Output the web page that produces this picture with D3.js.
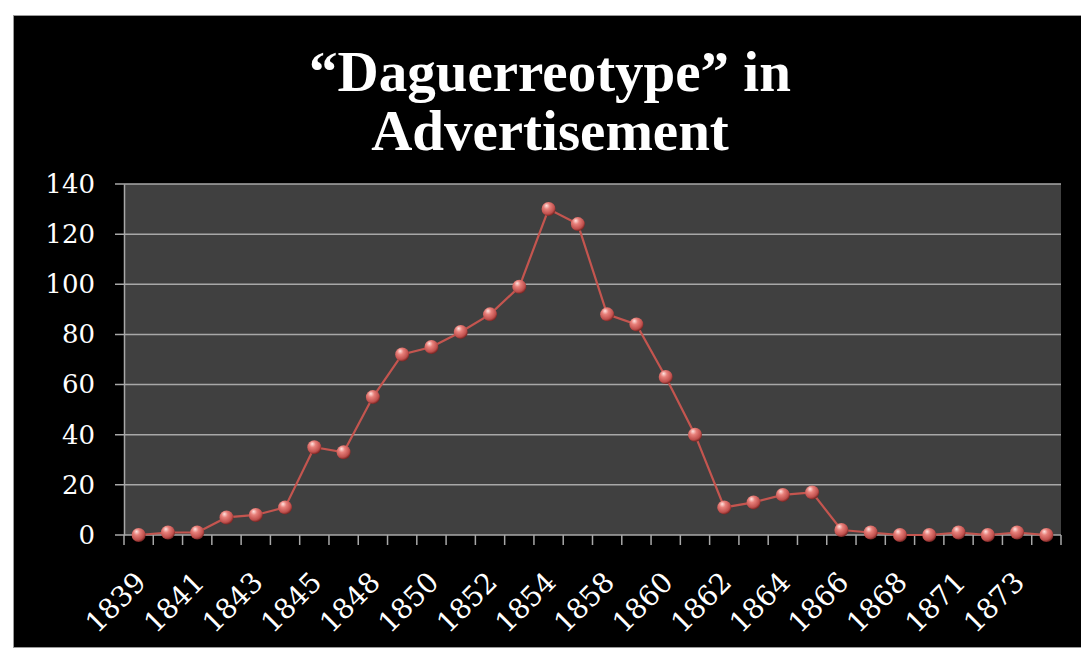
<!DOCTYPE html>
<html lang="en">
  <head>
    <meta charset="utf-8">
    <title>Daguerreotype in Advertisement</title>
    <script src="https://d3js.org/d3.v7.js"></script>
    <style>
      body { margin: 0; background: #fff; }
    </style>
  </head>
  <body>
  <script>

  // categories (every other one is labelled on the axis)
  var years = ["1839","1840","1841","1842","1843","1844","1845","1847",
               "1848","1849","1850","1851","1852","1853","1854","1856",
               "1858","1859","1860","1861","1862","1863","1864","1865",
               "1866","1867","1868","1870","1871","1872","1873","1874"];

  var counts = [0, 1, 1, 7, 8, 11, 35, 33,
                55, 72, 75, 81, 88, 99, 130, 124,
                88, 84, 63, 40, 11, 13, 16, 17,
                2, 1, 0, 0, 1, 0, 1, 0];

  var yTicks = [0, 20, 40, 60, 80, 100, 120, 140];

  var titleLines = ["\u201cDaguerreotype\u201d in", "Advertisement"];

  var data = years.map(function (y, i) { return {year: y, count: counts[i]}; });

  var w = 1081;
  var h = 658;
  var margin = {top: 184, right: 20, bottom: 123, left: 124};

  var svg = d3.select("body")
    .append("svg")
      .attr("width", w)
      .attr("height", h);

  // black chart frame
  svg.append("rect")
      .attr("x", 13.5)
      .attr("y", 15.5)
      .attr("width", w)
      .attr("height", 632)
      .attr("fill", "#000")
      .attr("stroke", "#9a9a9a")
      .attr("stroke-width", 1);

  var xScale = d3.scaleBand()
      .domain(years)
      .range([margin.left, w - margin.right])
      .padding(0);

  var yScale = d3.scaleLinear()
      .domain([0, 140])
      .range([h - margin.bottom, margin.top]);

  var cx = d => xScale(d.year) + xScale.bandwidth() / 2;

  // plot area
  svg.append("rect")
      .attr("x", margin.left)
      .attr("y", margin.top)
      .attr("width", w - margin.left - margin.right)
      .attr("height", h - margin.top - margin.bottom)
      .attr("fill", "#404040");

  // gridlines
  svg.append("g")
    .selectAll("line")
      .data(yTicks)
    .enter().append("line")
      .attr("x1", margin.left - 9)
      .attr("x2", w - margin.right)
      .attr("y1", d => yScale(d))
      .attr("y2", d => yScale(d))
      .attr("stroke", "#a8a8a8")
      .attr("stroke-width", 1.5);

  // y axis
  var yAxis = d3.axisLeft(yScale)
      .tickValues(yTicks)
      .tickSize(0)
      .tickPadding(29);

  var yg = svg.append("g")
      .attr("transform", `translate (${margin.left}, 0)`)
      .call(yAxis);
  yg.select(".domain").attr("stroke", "#a8a8a8").attr("stroke-width", 1.5);
  yg.selectAll("text")
      .attr("fill", "#fff")
      .style("font-family", "'DejaVu Serif', serif")
      .style("font-size", "26px");

  // x axis: ticks on category boundaries, labels on every other category
  var bounds = years.map(d => xScale(d)).concat([w - margin.right]);
  svg.append("g")
    .selectAll("line")
      .data(bounds)
    .enter().append("line")
      .attr("x1", d => d)
      .attr("x2", d => d)
      .attr("y1", yScale(0))
      .attr("y2", yScale(0) + 10)
      .attr("stroke", "#a8a8a8")
      .attr("stroke-width", 1.5);

  svg.append("g")
    .selectAll("text")
      .data(data.filter((d, i) => i % 2 == 0))
    .enter().append("text")
      .attr("transform", d => `translate(${cx(d) + 2}, ${yScale(0) + 42}) rotate(-45)`)
      .attr("text-anchor", "end")
      .attr("dy", "0.35em")
      .attr("fill", "#fff")
      .style("font-family", "'DejaVu Serif', serif")
      .style("font-size", "28px")
      .text(d => d.year);

  // marker gradient
  var defs = svg.append("defs");
  var grad = defs.append("radialGradient")
      .attr("id", "ball")
      .attr("cx", "40%").attr("cy", "35%").attr("r", "65%")
      .attr("fx", "35%").attr("fy", "25%");
  grad.append("stop").attr("offset", "0%").attr("stop-color", "#ffe4e0");
  grad.append("stop").attr("offset", "35%").attr("stop-color", "#e8807a");
  grad.append("stop").attr("offset", "80%").attr("stop-color", "#c0504d");
  grad.append("stop").attr("offset", "100%").attr("stop-color", "#7a2624");

  // line
  var line = d3.line()
      .x(cx)
      .y(d => yScale(d.count));

  svg.append("path")
      .datum(data)
      .attr("d", line)
      .attr("fill", "none")
      .attr("stroke", "#c4554f")
      .attr("stroke-width", 2.2);

  svg.append("g")
    .selectAll("circle")
      .data(data)
    .enter().append("circle")
      .attr("cx", cx)
      .attr("cy", d => yScale(d.count))
      .attr("r", 7)
      .attr("fill", "url(#ball)");

  // title
  svg.append("g")
    .selectAll("text")
      .data(titleLines)
    .enter().append("text")
      .attr("x", 550)
      .attr("y", (d, i) => 91 + i * 59)
      .attr("text-anchor", "middle")
      .attr("fill", "#fff")
      .style("font-family", "'Liberation Serif', serif")
      .style("font-weight", "bold")
      .style("font-size", "57px")
      .text(d => d);

  </script>
  </body>
</html>
